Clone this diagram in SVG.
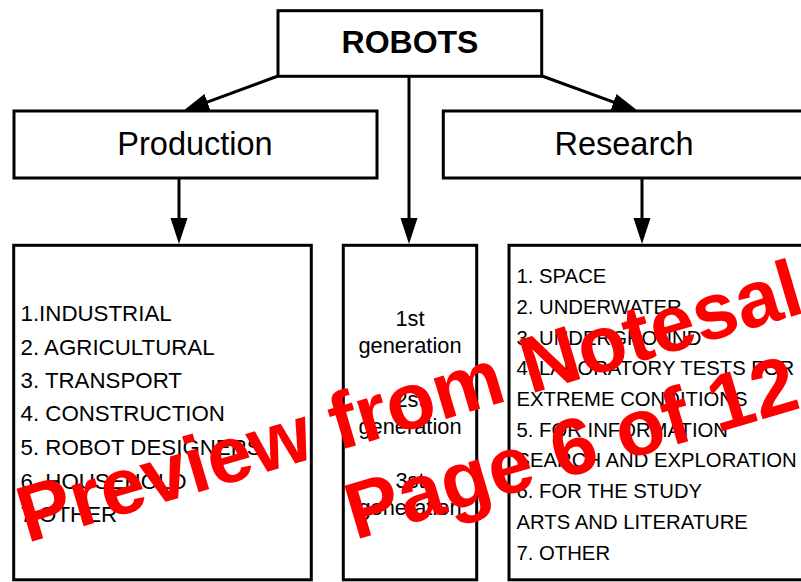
<svg xmlns="http://www.w3.org/2000/svg" width="801" height="582" viewBox="0 0 801 582">
<style>
.box{fill:#fff;stroke:#000;stroke-width:3}
.t{font-family:"Liberation Sans",Arial,sans-serif;fill:#000}
.big{font-size:32.5px}
.l1{font-size:22.3px}
.l2{font-size:20.3px}
.mid{font-size:21.8px;text-anchor:middle}
.con{stroke:#000;stroke-width:3;fill:none;marker-end:url(#ah)}
.wm{font-family:"Liberation Sans",Arial,sans-serif;font-weight:bold;font-size:80px;fill:#ff0000}
</style>
<defs>
<marker id="ah" markerUnits="userSpaceOnUse" markerWidth="27" markerHeight="19" viewBox="0 0 27 19" refX="14" refY="9.5" orient="auto">
<path d="M0,1 L26,9.5 L0,18 z" fill="#000"/>
</marker>
</defs>
<rect width="801" height="582" fill="#fff"/>
<g id="connectors">
<line class="con" x1="278" y1="76" x2="194.3" y2="106.8"/>
<line class="con" x1="542" y1="76" x2="626.7" y2="106.8"/>
<line class="con" x1="409" y1="76" x2="409" y2="232"/>
<line class="con" x1="179" y1="178" x2="179" y2="232"/>
<line class="con" x1="642" y1="178" x2="642" y2="232"/>
</g>
<g id="robots">
<rect class="box" x="278" y="10.7" width="263.7" height="65.6"/>
<text class="t" x="410" y="53" font-size="32" font-weight="bold" text-anchor="middle">ROBOTS</text>
</g>
<g id="production">
<rect class="box" x="14" y="111" width="363" height="67"/>
<text class="t big" x="195" y="155" text-anchor="middle">Production</text>
</g>
<g id="research">
<rect class="box" x="443.3" y="111" width="400" height="67"/>
<text class="t big" x="624" y="155" text-anchor="middle">Research</text>
</g>
<g id="production-list">
<rect class="box" x="13.7" y="245.3" width="297.6" height="334.5"/>
<text class="t l1" x="20.5" y="321">1.INDUSTRIAL</text>
<text class="t l1" x="20.5" y="355">2. AGRICULTURAL</text>
<text class="t l1" x="20.5" y="388">3. TRANSPORT</text>
<text class="t l1" x="20.5" y="421">4. CONSTRUCTION</text>
<text class="t l1" x="20.5" y="455">5. ROBOT DESIGNERS</text>
<text class="t l1" x="20.5" y="489">6. HOUSEHOLD</text>
<text class="t l1" x="20.5" y="522">7.OTHER</text>
</g>
<g id="generations">
<rect class="box" x="343.3" y="245.3" width="133.4" height="334.5"/>
<text class="t mid" x="410" y="326">1st</text>
<text class="t mid" x="410" y="353">generation</text>
<text class="t mid" x="410" y="407">2st</text>
<text class="t mid" x="410" y="434">generation</text>
<text class="t mid" x="410" y="488">3st</text>
<text class="t mid" x="410" y="515">generation</text>
</g>
<g id="research-list">
<rect class="box" x="509" y="245.3" width="400" height="334.5"/>
<text class="t l2" x="516.5" y="283">1. SPACE</text>
<text class="t l2" x="516.5" y="314">2. UNDERWATER</text>
<text class="t l2" x="516.5" y="345">3. UNDERGROUND</text>
<text class="t l2" x="516.5" y="375">4. LABORATORY TESTS FOR</text>
<text class="t l2" x="516.5" y="406">EXTREME CONDITIONS</text>
<text class="t l2" x="516.5" y="437">5. FOR INFORMATION</text>
<text class="t l2" x="516.5" y="467">SEARCH AND EXPLORATION</text>
<text class="t l2" x="516.5" y="498">6. FOR THE STUDY</text>
<text class="t l2" x="516.5" y="529">ARTS AND LITERATURE</text>
<text class="t l2" x="516.5" y="560">7. OTHER</text>
</g>
<g id="watermark">
<text class="wm" x="27" y="543" transform="rotate(-16.5 27 543)">Preview from Notesale</text>
<text class="wm" x="355" y="540" transform="rotate(-16.5 355 540)">Page 6 of 12</text>
</g>
</svg>
